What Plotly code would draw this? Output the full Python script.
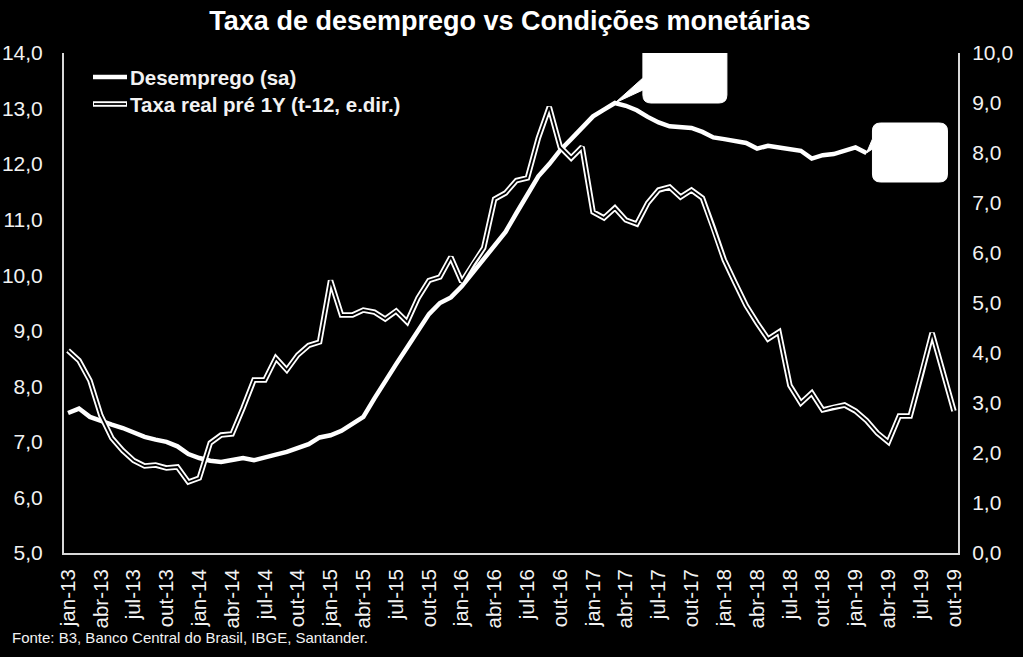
import plotly.graph_objects as go

# ---- data ----
month_names = ["jan", "fev", "mar", "abr", "mai", "jun", "jul", "ago", "set", "out", "nov", "dez"]
months = [f"{month_names[i % 12]}-{13 + i // 12}" for i in range(82)]  # jan-13 .. out-19

desemprego = [
    7.52, 7.60, 7.45, 7.37, 7.31, 7.25, 7.16, 7.09, 7.04, 7.00, 6.92, 6.78,
    6.71, 6.66, 6.64, 6.67, 6.71, 6.67, 6.71, 6.77, 6.82, 6.88, 6.96, 7.08,
    7.12, 7.20, 7.33, 7.45, 7.78, 8.10, 8.40, 8.70, 9.00, 9.30, 9.50, 9.60,
    9.80, 10.05, 10.30, 10.52, 10.78, 11.12, 11.45, 11.78, 12.00, 12.25, 12.45, 12.66,
    12.86, 12.98, 13.10, 13.05, 12.97, 12.85, 12.75, 12.68, 12.66, 12.65, 12.58, 12.48,
    12.45, 12.42, 12.38, 12.28, 12.33, 12.30, 12.27, 12.24, 12.10, 12.16, 12.18, 12.25,
    12.30, 12.20,
] + [None] * 8

taxa_real = [
    4.05, 3.85, 3.45, 2.75, 2.30, 2.05, 1.85, 1.74, 1.76, 1.70, 1.72, 1.42,
    1.50, 2.20, 2.36, 2.38, 2.90, 3.46, 3.46, 3.90, 3.66, 3.96, 4.15, 4.22,
    5.45, 4.76, 4.76, 4.86, 4.82, 4.68, 4.84, 4.62, 5.10, 5.45, 5.52, 5.92,
    5.42, 5.78, 6.10, 7.08, 7.20, 7.45, 7.50, 8.30, 8.92, 8.12, 7.90, 8.12,
    6.82, 6.70, 6.90, 6.66, 6.58, 7.00, 7.26, 7.32, 7.12, 7.26, 7.10, 6.50,
    5.86, 5.40, 4.95, 4.60, 4.28, 4.42, 3.35, 3.00, 3.20, 2.86, 2.92, 2.96,
    2.84, 2.65, 2.40, 2.22, 2.74, 2.74, 3.55, 4.40, 3.62, 2.84,
]

left_ticks = [5, 6, 7, 8, 9, 10, 11, 12, 13, 14]
right_ticks = [0, 1, 2, 3, 4, 5, 6, 7, 8, 9, 10]
x_idx = list(range(len(months)))
tick_idx = x_idx[::3]
tick_text = months[::3]

# ---- layout constants (pixels) ----
W, H = 1023, 657
ML, MR, MT, MB = 64, 65, 53, 104
PW, PH = W - ML - MR, H - MT - MB

def xp(px):
    return (px - ML) / PW

def yp(py):
    return (H - MB - py) / PH

FONT = "Liberation Sans, Arial, sans-serif"
TXT = "#f2f2f2"
AX = "#d9d9d9"

fig = go.Figure()

# taxa real: white outline with black core (right axis)
fig.add_trace(go.Scatter(x=x_idx, y=taxa_real, mode="lines", yaxis="y2",
                         line=dict(color="white", width=5.5), showlegend=False, hoverinfo="skip"))
fig.add_trace(go.Scatter(x=x_idx, y=taxa_real, mode="lines", yaxis="y2",
                         line=dict(color="black", width=1.8), showlegend=False, hoverinfo="skip"))
# desemprego (left axis)
fig.add_trace(go.Scatter(x=x_idx, y=desemprego, mode="lines", yaxis="y",
                         line=dict(color="white", width=4.5), showlegend=False, hoverinfo="skip"))

# callout bubbles anchored at data points (pixel-sized shapes)
peak_i = max(range(len(desemprego)), key=lambda i: desemprego[i] if desemprego[i] is not None else -1)
last_i = max(i for i, v in enumerate(desemprego) if v is not None)

def bubble(x0, x1, yb, yt, pb0, pb1, r=8):
    return (f"M 0 0 L {x0} {pb1} L {x0} {yt - r} Q {x0} {yt} {x0 + r} {yt} "
            f"L {x1 - r} {yt} Q {x1} {yt} {x1} {yt - r} L {x1} {yb + r} "
            f"Q {x1} {yb} {x1 - r} {yb} L {x0 + r} {yb} Q {x0} {yb} {x0} {yb + r} "
            f"L {x0} {pb0} Z")

fig.add_shape(type="path", xref="x", yref="y", xsizemode="pixel", ysizemode="pixel",
              xanchor=peak_i, yanchor=desemprego[peak_i],
              path=bubble(28, 112, 0, 59, 13, 25), fillcolor="white", line=dict(color="white", width=1))
fig.add_shape(type="path", xref="x", yref="y", xsizemode="pixel", ysizemode="pixel",
              xanchor=last_i, yanchor=desemprego[last_i],
              path=bubble(6, 81, -29, 30, 4, 14), fillcolor="white", line=dict(color="white", width=1))

# manual legend
fig.add_shape(type="line", xref="paper", yref="paper", x0=xp(93), x1=xp(127), y0=yp(77), y1=yp(77),
              line=dict(color="white", width=4.5))
fig.add_shape(type="line", xref="paper", yref="paper", x0=xp(93), x1=xp(127), y0=yp(104), y1=yp(104),
              line=dict(color="white", width=5.5))
fig.add_shape(type="line", xref="paper", yref="paper", x0=xp(94), x1=xp(126), y0=yp(104), y1=yp(104),
              line=dict(color="black", width=1.8))
fig.add_annotation(x=xp(128), y=yp(77), xref="paper", yref="paper", xanchor="left", yanchor="middle",
                   text="<b>Desemprego (sa)</b>", showarrow=False, font=dict(family=FONT, size=20.5, color=TXT))
fig.add_annotation(x=xp(128), y=yp(104), xref="paper", yref="paper", xanchor="left", yanchor="middle",
                   text="<b>Taxa real pré 1Y (t-12, e.dir.)</b>", showarrow=False,
                   font=dict(family=FONT, size=20.5, color=TXT))

# source note
fig.add_annotation(x=xp(10), y=yp(637), xref="paper", yref="paper", xanchor="left", yanchor="middle",
                   text="Fonte: B3, Banco Central do Brasil, IBGE, Santander.", showarrow=False,
                   font=dict(family=FONT, size=15, color=TXT))

fig.update_layout(
    width=W, height=H,
    margin=dict(l=ML, r=MR, t=MT, b=MB, pad=0, autoexpand=False),
    paper_bgcolor="black", plot_bgcolor="black",
    separators=",.",
    showlegend=False,
    title=dict(text="<b>Taxa de desemprego vs Condições monetárias</b>",
               x=0.4985, xanchor="center", xref="container",
               y=1 - 21 / H, yanchor="middle", yref="container",
               font=dict(family="Liberation Sans Narrow, Arial Narrow, Liberation Sans, sans-serif",
                         size=27, color="white")),
    xaxis=dict(range=[-0.37, 81.37], tickmode="array", tickvals=tick_idx, ticktext=tick_text,
               tickangle=-90, showgrid=False, zeroline=False, showline=True, linecolor=AX, linewidth=2,
               ticks="", ticklabelstandoff=6, automargin=False,
               tickfont=dict(family=FONT, size=20.5, color=TXT)),
    yaxis=dict(range=[5, 14], tickvals=left_ticks, tickformat=".1f", showgrid=False, zeroline=False,
               showline=True, linecolor=AX, linewidth=2, ticks="", ticklabelstandoff=15, automargin=False,
               tickfont=dict(family=FONT, size=21, color=TXT)),
    yaxis2=dict(range=[0, 10], tickvals=right_ticks, tickformat=".1f", overlaying="y", side="right",
                showgrid=False, zeroline=False, showline=True, linecolor=AX, linewidth=2, ticks="",
                ticklabelstandoff=8, automargin=False,
                tickfont=dict(family=FONT, size=21, color=TXT)),
)

fig.write_html("out.html")
